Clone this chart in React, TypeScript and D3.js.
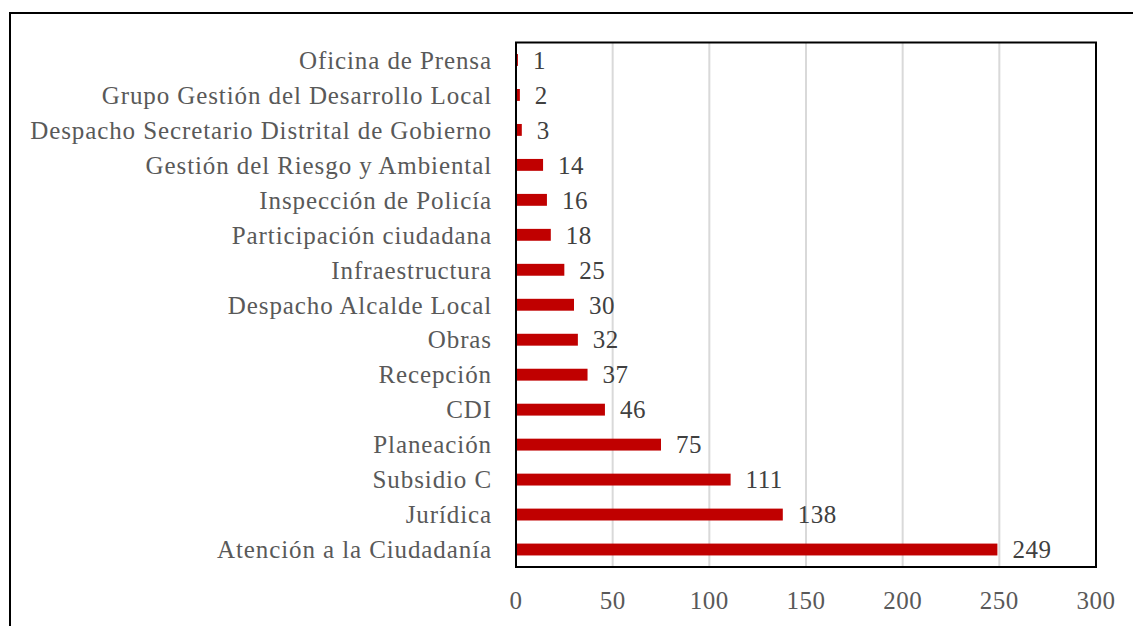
import React from 'react';
import * as d3 from 'd3';

const categories = [
  'Oficina de Prensa',
  'Grupo Gestión del Desarrollo Local',
  'Despacho Secretario Distrital de Gobierno',
  'Gestión del Riesgo y Ambiental',
  'Inspección de Policía',
  'Participación ciudadana',
  'Infraestructura',
  'Despacho Alcalde Local',
  'Obras',
  'Recepción',
  'CDI',
  'Planeación',
  'Subsidio C',
  'Jurídica',
  'Atención a la Ciudadanía',
];
const values = [1, 2, 3, 14, 16, 18, 25, 30, 32, 37, 46, 75, 111, 138, 249];
const xTicks = [0, 50, 100, 150, 200, 250, 300];

const W = 1133;
const H = 626;
const margin = { top: 42.5, left: 516, right: 37, bottom: 59 };
const font = "'Liberation Serif', serif";
const textColor = '#595959';

const App = () => {
  const x = d3.scaleLinear().domain([0, 300]).range([margin.left, W - margin.right]);
  const y = d3.scaleBand().domain(categories).range([margin.top, H - margin.bottom]).paddingInner(0.66).paddingOuter(0.33);

  return (
    <svg width={W} height={H} style={{ position: 'absolute', left: 0, top: 0, background: '#fff' }}>
      <rect x={10} y={13} width={1300} height={800} fill="#fff" stroke="#000" strokeWidth={2} />
      {xTicks.slice(1, -1).map(t => (
        <line key={t} x1={x(t)} x2={x(t)} y1={margin.top} y2={H - margin.bottom} stroke="#d9d9d9" strokeWidth={2} />
      ))}
      {categories.map((c, i) => (
        <rect key={c} x={x(0)} y={y(c)} width={x(values[i]) - x(0)} height={y.bandwidth()} fill="#c00000" />
      ))}
      <rect x={x(0)} y={margin.top} width={x(300) - x(0)} height={H - margin.bottom - margin.top}
        fill="none" stroke="#000" strokeWidth={2} />
      {categories.map(c => (
        <text key={c} x={x(0) - 24} y={y(c)! + y.bandwidth() / 2} dy="0.35em" textAnchor="end"
          style={{ fontFamily: font, fontSize: 25, letterSpacing: 0.9 }} fill={textColor}>{c}</text>
      ))}
      {categories.map((c, i) => (
        <text key={c + 'v'} x={x(values[i]) + 15} y={y(c)! + y.bandwidth() / 2} dy="0.35em"
          style={{ fontFamily: font, fontSize: 25, letterSpacing: 0.5 }} fill="#404040">{values[i]}</text>
      ))}
      {xTicks.map(t => (
        <text key={t} x={x(t)} y={H - margin.bottom + 33} dy="0.35em" textAnchor="middle"
          style={{ fontFamily: font, fontSize: 25, letterSpacing: 0.5 }} fill={textColor}>{t}</text>
      ))}
    </svg>
  );
};

export default App;
